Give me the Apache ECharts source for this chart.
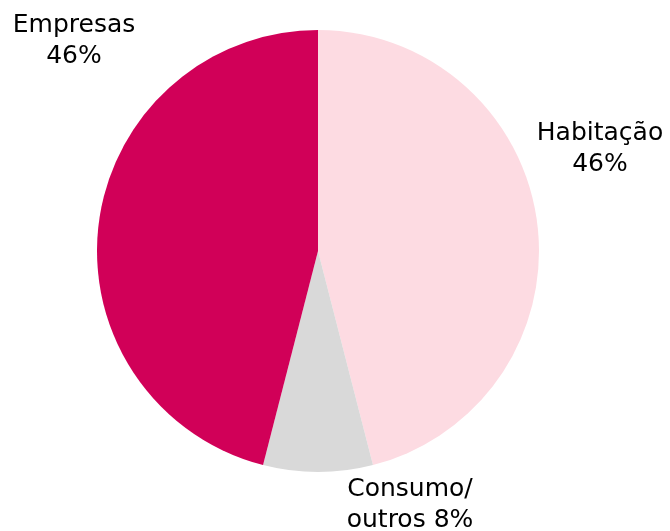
<!DOCTYPE html>
<html>
<head>
<meta charset="utf-8">
<script src="https://cdn.jsdelivr.net/npm/echarts@6/dist/echarts.min.js"></script>
<style>
  html, body { margin: 0; padding: 0; background: #ffffff; }
  #chart { width: 670px; height: 531px; }
</style>
</head>
<body>
<div id="chart"></div>
<script>
// Loan portfolio breakdown by segment
const categories = ['Habitação', 'Consumo/\noutros', 'Empresas'];
const shares = [46, 8, 46];
const sliceColors = ['#FDDBE2', '#D9D9D9', '#D10058'];

// Where each label sits (centre of the text block)
const labelSpots = [
  { x: 600, y: 149 },
  { x: 410, y: 505 },
  { x: 74, y: 41 }
];

const chart = echarts.init(document.getElementById('chart'), null, { renderer: 'canvas' });

chart.setOption({
  animation: false,
  series: [{
    type: 'pie',
    center: [318, 251],
    radius: [0, 221],
    startAngle: 90,
    clockwise: true,
    avoidLabelOverlap: false,
    data: categories.map((name, i) => ({
      name: name,
      value: shares[i],
      itemStyle: { color: sliceColors[i] }
    })),
    itemStyle: { borderWidth: 0 },
    label: {
      show: true,
      position: 'outside',
      formatter: p => (p.dataIndex === 1 ? p.name + ' ' + p.value + '%' : p.name + '\n' + p.value + '%'),
      fontFamily: 'DejaVu Sans',
      fontSize: 25,
      lineHeight: 31,
      color: '#000000',
      align: 'center',
      overflow: 'none',
      width: 300
    },
    labelLine: { show: false },
    labelLayout: p => ({
      x: labelSpots[p.dataIndex].x,
      y: labelSpots[p.dataIndex].y,
      align: 'center',
      verticalAlign: 'middle'
    })
  }]
});
</script>
</body>
</html>
